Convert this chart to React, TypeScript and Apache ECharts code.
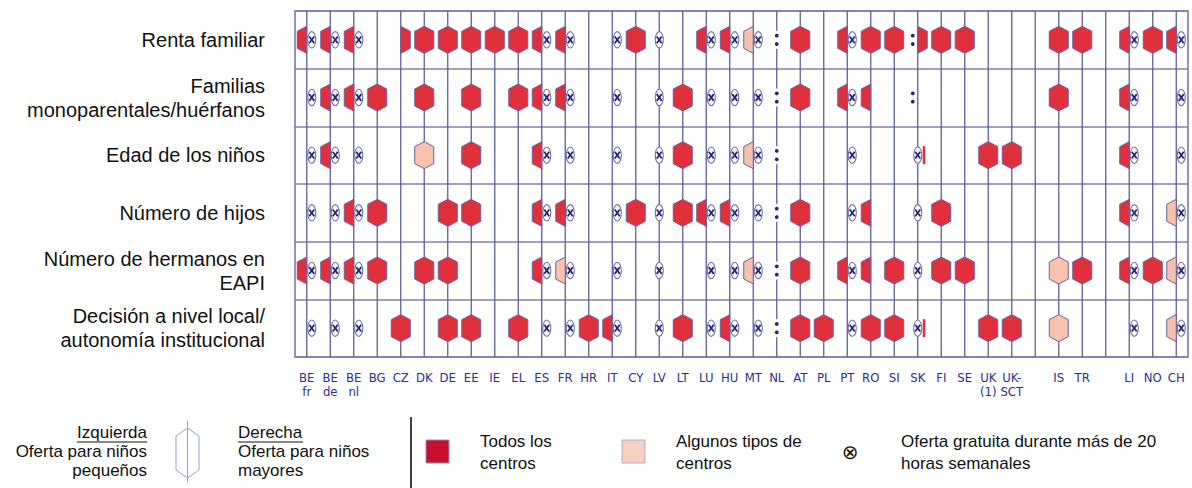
import React, { useEffect, useRef } from 'react';
import * as echarts from 'echarts';

// Columns (countries); empty strings are the gaps between groups
const countries = [
  'BE\nfr', 'BE\nde', 'BE\nnl', 'BG', 'CZ', 'DK', 'DE', 'EE', 'IE', 'EL', 'ES', 'FR', 'HR', 'IT', 'CY', 'LV',
  'LT', 'LU', 'HU', 'MT', 'NL', 'AT', 'PL', 'PT', 'RO', 'SI', 'SK', 'FI', 'SE', 'UK\n(1)', 'UK-\nSCT', '',
  'IS', 'TR', ' ', 'LI', 'NO', 'CH',
];

const criteria = [
  'Renta familiar',
  'Familias\nmonoparentales/huérfanos',
  'Edad de los niños',
  'Número de hijos',
  'Número de hermanos en\nEAPI',
  'Decisión a nivel local/\nautonomía institucional',
];

// Cell codes: [left][right]; R = todos los centros, P = algunos tipos, X = oferta gratuita >20h,
// : = sin datos, - = nada. Specials: O = ⊗ centrado, O| = ⊗ centrado + barra roja, :: = sin datos centrado
const rentaFamiliar = [
  'RX', 'RX', 'RX', '--', '-R', 'RR', 'RR', 'RR', 'RR', 'RR', 'RX', 'RX', '--', '-X', 'RR', 'O',
  '--', 'RX', 'RX', 'PX', '::', 'RR', '--', 'RX', 'RR', 'RR', ':R', 'RR', 'RR', '--', '--', '--',
  'RR', 'RR', '--', 'RX', 'RR', 'RX',
];
const familiasMonoparentales = [
  '-X', 'RX', 'RX', 'RR', '--', 'RR', '--', 'RR', '--', 'RR', 'RX', 'RX', '--', '-X', '--', 'O',
  'RR', '-X', '-X', '-X', '::', 'RR', '--', 'RX', 'R-', '--', ':-', '--', '--', '--', '--', '--',
  'RR', '--', '--', 'RX', '--', '-X',
];
const edadNinos = [
  '-X', 'RX', '-X', '--', '--', 'PP', '--', 'RR', '--', '--', 'RX', '-X', '--', '-X', '--', 'O',
  'RR', '-X', '-X', 'PX', '::', '--', '--', '-X', '--', '--', 'O|', '--', '--', 'RR', 'RR', '--',
  '--', '--', '--', 'RX', '--', '-X',
];
const numeroHijos = [
  '-X', '-X', 'RX', 'RR', '--', '--', 'RR', 'RR', '--', '--', 'RX', 'RX', '--', '-X', 'RR', 'O',
  'RR', 'RX', 'RX', '-X', '::', 'RR', '--', '-X', 'R-', '--', 'O', 'RR', '--', '--', '--', '--',
  '--', '--', '--', 'RX', '--', 'PX',
];
const numeroHermanos = [
  'RX', 'RX', 'RX', 'RR', '--', 'RR', 'RR', '--', '--', '--', 'RX', 'PX', '--', '-X', '--', 'O',
  '--', '-X', '-X', 'PX', '::', 'RR', '--', 'RX', 'R-', 'RR', 'O', 'RR', 'RR', '--', '--', '--',
  'PP', 'RR', '--', 'RX', 'RR', 'PX',
];
const decisionLocal = [
  '-X', '-X', '-X', '--', 'RR', '--', 'RR', 'RR', '--', 'RR', '-X', '-X', 'RR', 'RX', '--', 'O',
  'RR', '-X', 'RX', '-X', '::', 'RR', 'RR', '-X', 'RR', 'RR', 'O|', '--', '--', 'RR', 'RR', '--',
  'PP', '--', '--', '-X', '--', 'PX',
];

const rows = [rentaFamiliar, familiasMonoparentales, edadNinos, numeroHijos, numeroHermanos, decisionLocal];

const RED = '#e0303b';
const PINK = '#f7c3ae';
const HEX_STROKE = '#6f5f9f';
const GRID = '#5f5e9e';
const NAVY = '#24247a';

const cellList: { c: number; r: number; code: string }[] = [];
rows.forEach((arr, r) =>
  arr.forEach((code, c) => {
    if (code !== '--') cellList.push({ c, r, code });
  })
);

const HW = 9.5;
const HH = 13.5;
const HS = 8.5;

function hexFull(cx: number, cy: number, color: string) {
  return {
    type: 'polygon',
    shape: {
      points: [
        [cx, cy - HH], [cx + HW, cy - HS], [cx + HW, cy + HS],
        [cx, cy + HH], [cx - HW, cy + HS], [cx - HW, cy - HS],
      ],
    },
    style: { fill: color, stroke: HEX_STROKE, lineWidth: 1 },
  };
}
function hexHalf(cx: number, cy: number, side: number, color: string) {
  return {
    type: 'polygon',
    shape: {
      points: [[cx, cy - HH], [cx + side * HW, cy - HS], [cx + side * HW, cy + HS], [cx, cy + HH]],
    },
    style: { fill: color, stroke: HEX_STROKE, lineWidth: 1 },
  };
}
function freeSym(x: number, cy: number) {
  return [
    { type: 'ellipse', shape: { cx: x, cy, rx: 4, ry: 8.2 }, style: { fill: '#fff', stroke: '#6f6eaa', lineWidth: 1.1 } },
    { type: 'line', shape: { x1: x - 2.5, y1: cy - 3.4, x2: x + 2.5, y2: cy + 3.4 }, style: { stroke: NAVY, lineWidth: 1.8 } },
    { type: 'line', shape: { x1: x + 2.5, y1: cy - 3.4, x2: x - 2.5, y2: cy + 3.4 }, style: { stroke: NAVY, lineWidth: 1.8 } },
  ];
}
function colonSym(x: number, cy: number, breakLine: boolean) {
  const out: any[] = [];
  if (breakLine) out.push({ type: 'rect', shape: { x: x - 3, y: cy - 9, width: 6, height: 18 }, style: { fill: '#fff' } });
  out.push({ type: 'circle', shape: { cx: x, cy: cy - 4.2, r: 1.9 }, style: { fill: NAVY } });
  out.push({ type: 'circle', shape: { cx: x, cy: cy + 4.2, r: 1.9 }, style: { fill: NAVY } });
  return out;
}

const fillOf = (ch: string) => (ch === 'R' ? RED : ch === 'P' ? PINK : null);

export default function App() {
  const ref = useRef<HTMLDivElement>(null);
  useEffect(() => {
    document.body.style.margin = '0';
    const chart = echarts.init(ref.current!, null, { renderer: 'svg' });
    const legendFont = "'Liberation Sans', Arial, sans-serif";
    const txt = (x: number, y: number, text: string, align: string) => ({
      type: 'text',
      x,
      y,
      style: { text, fill: '#111', fontSize: 17, fontFamily: legendFont, textAlign: align, textVerticalAlign: 'middle' },
    });
    chart.setOption({
      animation: false,
      grid: {
        left: 295, right: 4, top: 11, bottom: 131,
        show: true, borderColor: '#7372ab', borderWidth: 1.5, backgroundColor: 'transparent',
      },
      xAxis: {
        type: 'category',
        data: countries,
        boundaryGap: true,
        axisLine: { show: false },
        axisTick: { show: false },
        splitLine: { show: false },
        axisLabel: {
          interval: 0,
          color: '#2b2f8f',
          fontSize: 13,
          lineHeight: 14,
          margin: 13,
          fontFamily: "'Liberation Sans Narrow', 'DejaVu Sans Condensed', 'Roboto', sans-serif",
        },
      },
      yAxis: {
        type: 'category',
        data: criteria,
        inverse: true,
        axisLine: { show: false },
        axisTick: { show: false },
        splitLine: { show: true, lineStyle: { color: '#807fb5', width: 1.5 } },
        axisLabel: {
          color: '#111',
          fontSize: 20,
          lineHeight: 24,
          margin: 30,
          fontFamily: "'Liberation Sans', Arial, sans-serif",
        },
      },
      series: [
        {
          type: 'custom',
          z: 1,
          data: countries.map((_, i) => [i, 0]),
          encode: { x: 0, y: 1 },
          renderItem: (params: any, api: any) => {
            const x = api.coord([api.value(0), 0])[0];
            const cs = params.coordSys;
            return {
              type: 'line',
              shape: { x1: x, y1: cs.y, x2: x, y2: cs.y + cs.height },
              style: { stroke: GRID, lineWidth: 1.3 },
            };
          },
        },
        {
          type: 'custom',
          z: 2,
          data: cellList.map((d) => [d.c, d.r]),
          encode: { x: 0, y: 1 },
          renderItem: (params: any, api: any) => {
            const cell = cellList[params.dataIndex];
            const [cx, cy] = api.coord([api.value(0), api.value(1)]);
            const code = cell.code;
            let children: any[] = [];
            if (code === 'O' || code === 'O|') {
              children = children.concat(freeSym(cx, cy));
              if (code === 'O|') {
                children.push({ type: 'rect', shape: { x: cx + 5, y: cy - 9, width: 2.6, height: 18 }, style: { fill: RED } });
              }
            } else if (code === '::') {
              children = children.concat(colonSym(cx, cy, true));
            } else {
              const L = code[0];
              const R = code[1];
              const lf = fillOf(L);
              const rf = fillOf(R);
              if (lf && rf && L === R) {
                children.push(hexFull(cx, cy, lf));
              } else {
                if (lf) children.push(hexHalf(cx, cy, -1, lf));
                if (rf) children.push(hexHalf(cx, cy, 1, rf));
              }
              if (L === 'X') children = children.concat(freeSym(cx - 5, cy));
              if (R === 'X') children = children.concat(freeSym(cx + 5, cy));
              if (L === ':') children = children.concat(colonSym(cx - 5, cy, false));
              if (R === ':') children = children.concat(colonSym(cx + 5, cy, false));
            }
            return { type: 'group', children };
          },
        },
      ],
      graphic: [
        txt(147, 432, 'Izquierda', 'right'),
        { type: 'line', shape: { x1: 77, y1: 442, x2: 147, y2: 442 }, style: { stroke: '#111', lineWidth: 1 } },
        txt(147, 451, 'Oferta para niños', 'right'),
        txt(147, 470, 'pequeños', 'right'),
        {
          type: 'polygon',
          shape: { points: [[187.5, 428], [199, 436], [199, 470], [187.5, 478], [176, 470], [176, 436]] },
          style: { fill: 'none', stroke: '#8aa3d4', lineWidth: 1 },
        },
        { type: 'line', shape: { x1: 187.5, y1: 421, x2: 187.5, y2: 482 }, style: { stroke: '#8aa3d4', lineWidth: 1 } },
        txt(238, 432, 'Derecha', 'left'),
        { type: 'line', shape: { x1: 238, y1: 442, x2: 303, y2: 442 }, style: { stroke: '#111', lineWidth: 1 } },
        txt(238, 451, 'Oferta para niños', 'left'),
        txt(238, 470, 'mayores', 'left'),
        { type: 'line', shape: { x1: 411, y1: 417, x2: 411, y2: 488 }, style: { stroke: '#000', lineWidth: 1.5 } },
        { type: 'rect', shape: { x: 426, y: 440, width: 23, height: 23 }, style: { fill: '#c8102e', stroke: '#9d8cc0', lineWidth: 1 } },
        txt(480, 441, 'Todos los', 'left'),
        txt(480, 463, 'centros', 'left'),
        { type: 'rect', shape: { x: 622, y: 440, width: 23, height: 23 }, style: { fill: '#f6cfc0', stroke: '#b7a8cf', lineWidth: 1 } },
        txt(676, 441, 'Algunos tipos de', 'left'),
        txt(676, 463, 'centros', 'left'),
        {
          type: 'text', x: 850, y: 452,
          style: { text: '⊗', fill: '#111', fontSize: 20, fontFamily: "'DejaVu Sans', sans-serif", textAlign: 'center', textVerticalAlign: 'middle' },
        },
        txt(901, 441, 'Oferta gratuita durante más de 20', 'left'),
        txt(901, 463, 'horas semanales', 'left'),
      ],
    });
    return () => chart.dispose();
  }, []);
  return <div ref={ref} style={{ width: 1192, height: 488 }} />;
}
